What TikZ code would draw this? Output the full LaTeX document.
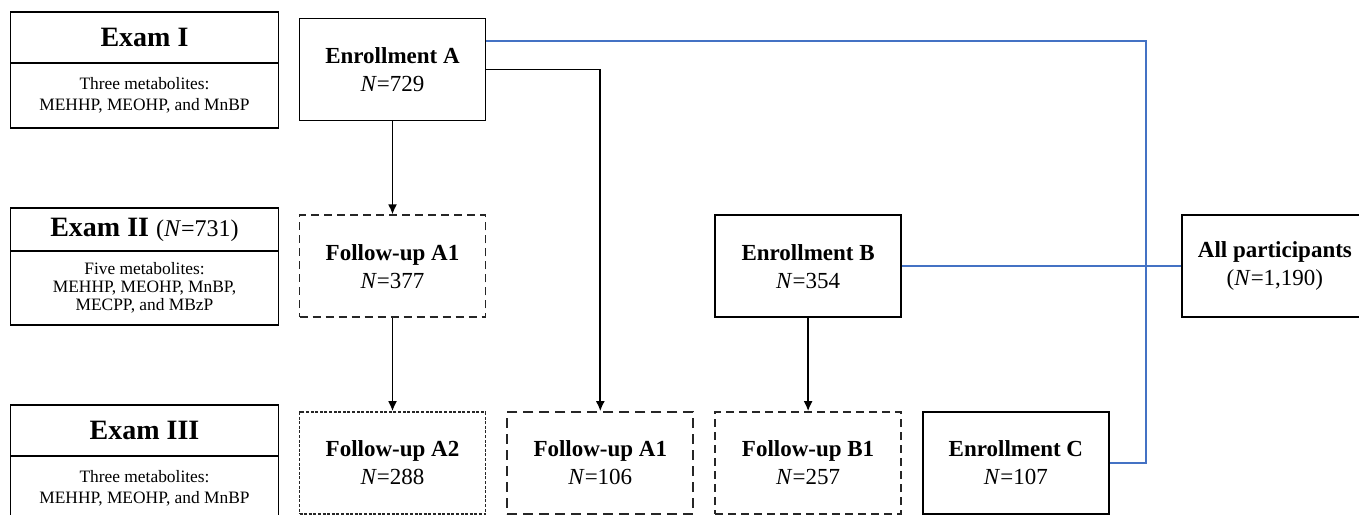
\documentclass[tikz,border=0pt]{standalone}
\usepackage{fontspec}
\setmainfont{Liberation Serif}
\usetikzlibrary{positioning, arrows.meta}
\definecolor{busblue}{RGB}{68,114,196}

\begin{document}
\begin{tikzpicture}[
	x=0.5pt, y=-0.5pt,
	node distance=46.5pt and 10pt,
	cohort/.style={
		draw,
		line width=0.9pt,
		minimum width=93pt,
		minimum height=51pt,
		inner sep=0pt,
		align=center,
		font=\fontsize{11.5}{14}\selectfont
	},
	follow up/.style={
		cohort,
		draw=black!85,
		dash pattern=on 4pt off 2.5pt
	},
	exam head/.style={
		draw,
		line width=0.9pt,
		minimum width=134pt,
		inner sep=0pt,
		outer sep=0pt,
		font=\fontsize{14}{16}\selectfont\bfseries
	},
	exam body/.style={
		draw,
		line width=0.9pt,
		minimum width=134pt,
		inner sep=0pt,
		outer sep=0pt,
		align=center,
		font=\fontsize{8.7}{10.5}\selectfont
	},
	flow/.style={
		line width=0.9pt,
		-{Latex[length=5pt, width=4.5pt]}
	},
	bus line/.style={
		draw=busblue,
		line width=0.9pt
	}
]
	\useasboundingbox (0,0) rectangle (1359,514);

	% exam column
	\node[exam head, minimum height=25.5pt] (exam I) at (144.5,37.5) {Exam I};
	\node[exam body, minimum height=32.5pt, below=0pt of exam I] (exam I body)
		{Three metabolites:\\MEHHP, MEOHP, and MnBP};
	\node[exam head, minimum height=21.5pt] (exam II) at (144.5,229.5)
		{Exam II {\mdseries\fontsize{12}{14}\selectfont(\textit{N}=731)}};
	\node[exam body, minimum height=37pt, below=0pt of exam II,
		font=\fontsize{8.7}{9}\selectfont] (exam II body)
		{Five metabolites:\\MEHHP, MEOHP, MnBP,\\MECPP, and MBzP};
	\node[exam head, minimum height=25.5pt] (exam III) at (144.5,430.5) {Exam III};
	\node[exam body, minimum height=32.5pt, below=0pt of exam III] (exam III body)
		{Three metabolites:\\MEHHP, MEOHP, and MnBP};

	% cohorts
	\node[cohort] (enroll A) at (392.5,69.5) {\textbf{Enrollment A}\\\textit{N}=729};
	\node[follow up, below=of enroll A] (follow A1) {\textbf{Follow-up A1}\\\textit{N}=377};
	\node[follow up, dash pattern=on 1.5pt off 0.8pt, below=of follow A1] (follow A2)
		{\textbf{Follow-up A2}\\\textit{N}=288};
	\node[follow up, dash pattern=on 5pt off 3pt, right=of follow A2] (follow A1 late)
		{\textbf{Follow-up A1}\\\textit{N}=106};
	\node[follow up, right=of follow A1 late] (follow B1) {\textbf{Follow-up B1}\\\textit{N}=257};
	\node[cohort, above=of follow B1] (enroll B) {\textbf{Enrollment B}\\\textit{N}=354};
	\node[cohort, right=of follow B1] (enroll C) {\textbf{Enrollment C}\\\textit{N}=107};
	\node[cohort, right=139.5pt of enroll B] (all) {\textbf{All participants}\\(\textit{N}=1,190)};

	\coordinate (bus) at (1146,266);

	% arrows
	\draw[flow] (enroll A) -- (follow A1);
	\draw[flow] (follow A1) -- (follow A2);
	\draw[flow] (enroll A.east) -| (follow A1 late.north);
	\draw[flow] (enroll B) -- (follow B1);

	% pooling
	\draw[bus line] ([yshift=14.25pt]enroll A.east) -| (bus) |- (enroll C.east);
	\draw[bus line] (enroll B) -- (all);
\end{tikzpicture}
\end{document}
